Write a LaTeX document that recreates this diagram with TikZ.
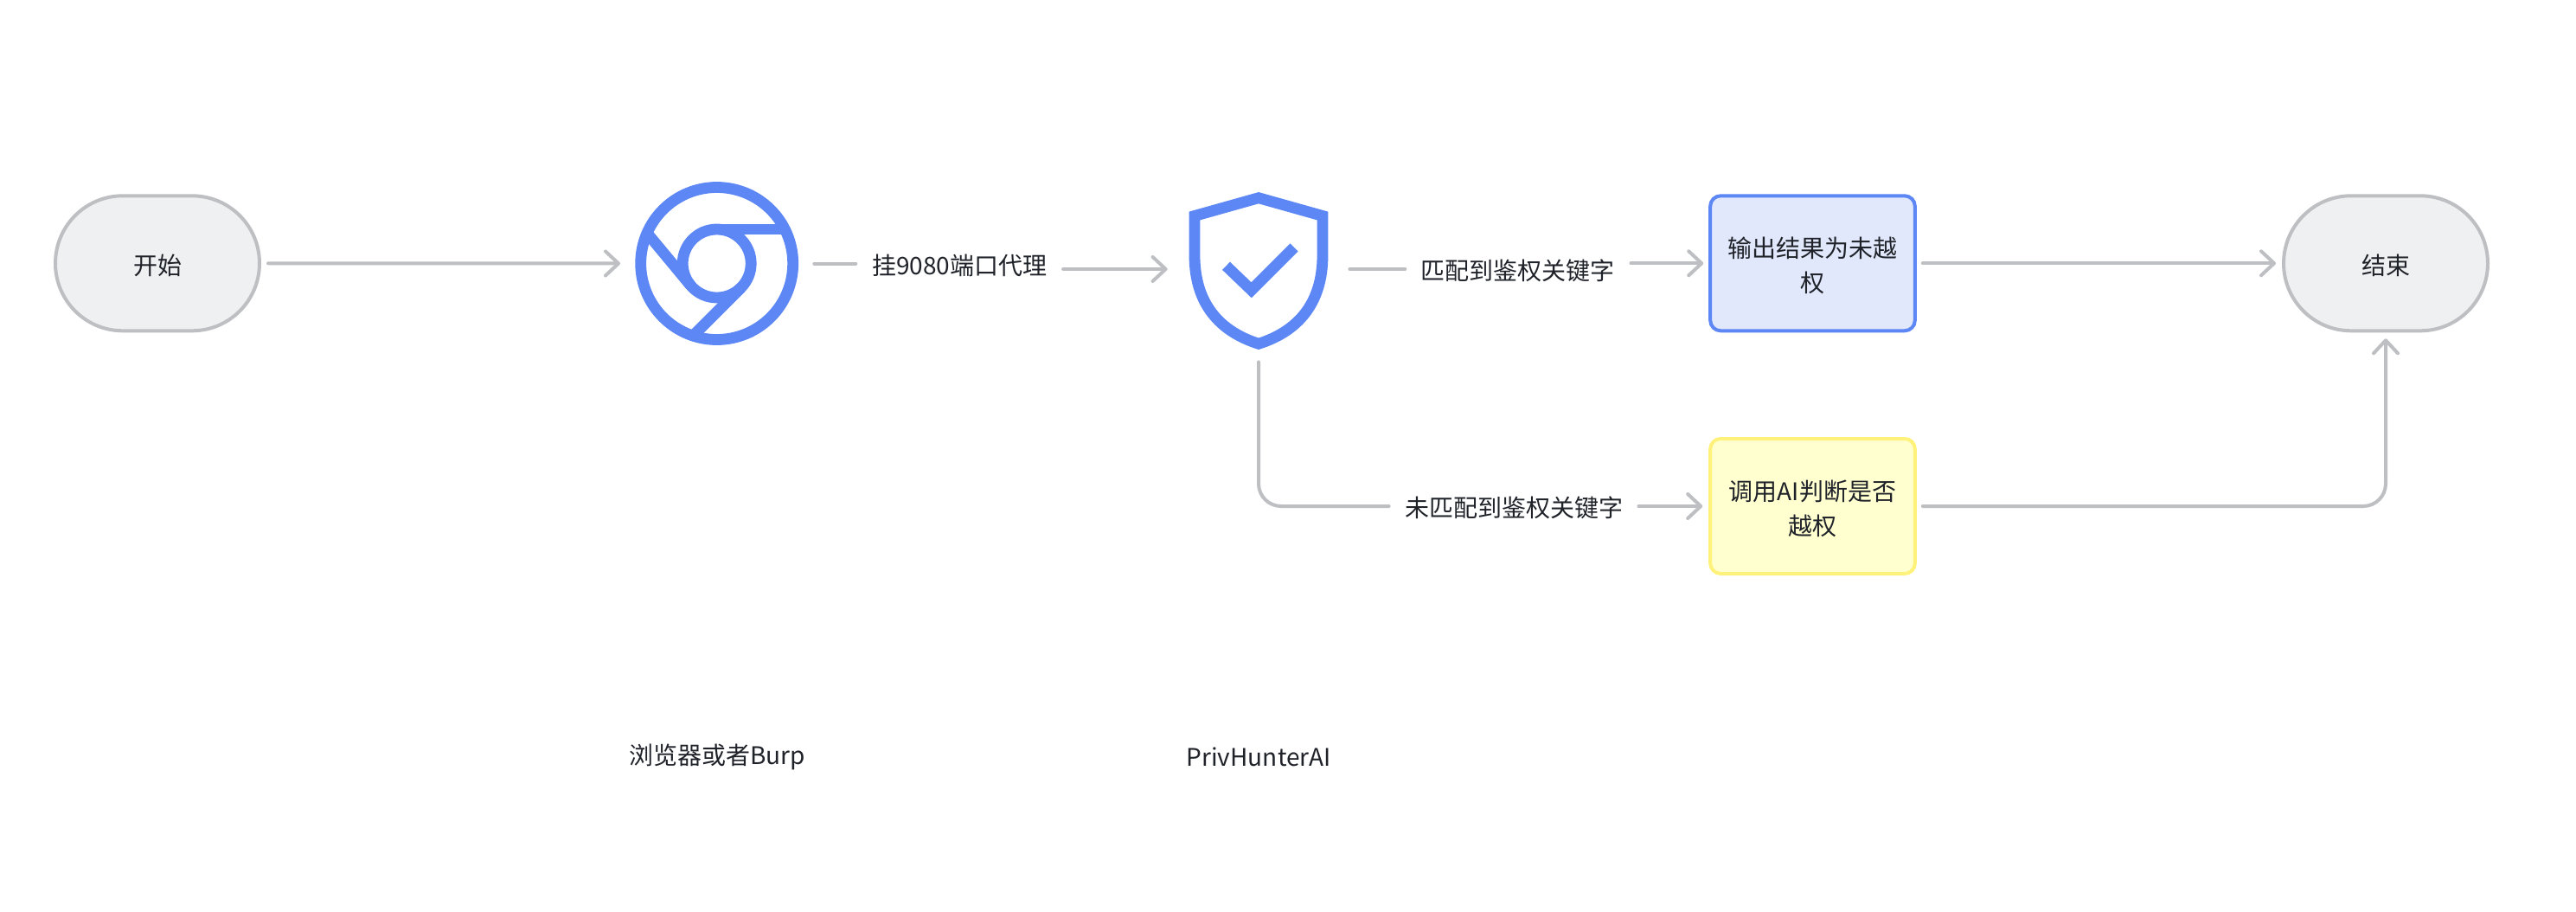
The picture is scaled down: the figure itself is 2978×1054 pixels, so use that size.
\documentclass[tikz,border=0pt]{standalone}
\usepackage{fontspec}
\setmainfont{Noto Sans CJK SC}
\usetikzlibrary{arrows.meta}
\definecolor{lineg}{HTML}{BDBFC3}
\definecolor{fillg}{HTML}{EFF0F1}
\definecolor{iconb}{HTML}{5C87F5}
\definecolor{fillb}{HTML}{E1E8FC}
\definecolor{liney}{HTML}{FFF27A}
\definecolor{filly}{HTML}{FFFFD0}
\definecolor{textc}{HTML}{1F2329}
\newcommand{\lowtext}[1]{\raisebox{-1.2pt}[\height][\depth]{#1}}
\tikzset{
  every node/.style={text=textc,font=\fontsize{14pt}{20pt}\selectfont,inner sep=0pt,align=center},
  terminal/.style={draw=lineg,fill=fillg,line width=2pt,rounded corners=39pt,minimum width=118pt,minimum height=78pt},
  procbox/.style={line width=2pt,rounded corners=6pt,minimum width=118.3pt,minimum height=78pt},
  conn/.style={draw=lineg,line width=2pt,line cap=round,line join=round},
  arrowed/.style={conn,-{Straight Barb[length=7.5pt,width=14pt,line width=2pt,round]}},
  icon/.style={draw=iconb,line width=6.4pt},
}
\begin{document}
\begin{tikzpicture}[x=0.5pt,y=-0.5pt]
\useasboundingbox (0,0) rectangle (2978,1054);
\fill[white] (0,0) rectangle (2978,1054);

% nodes
\node[terminal] (start) at (182,304.3) {\lowtext{开始}};
\node[minimum width=94.5pt,minimum height=94.5pt] (chrome) at (828.7,304.5) {};
\node[minimum width=80pt,minimum height=90pt] (shield) at (1455,311) {};
\node[procbox,draw=iconb,fill=fillb] (blue) at (2095.5,304.3) {\lowtext{输出结果为未越}\\\lowtext{权}};
\node[procbox,draw=liney,fill=filly] (yellow) at (2095.5,585) {\lowtext{调用AI判断是否}\\\lowtext{越权}};
\node[terminal] (finish) at (2758,304.3) {\lowtext{结束}};
\node[minimum width=119.5pt] (lab1) at (1109.2,306.7) {挂9080端口代理};
\node[minimum width=130.15pt] (lab2) at (1754.85,312.7) {匹配到鉴权关键字};
\node[minimum width=144pt] (lab3) at (1750,586.7) {未匹配到鉴权关键字};
\node (cap1) at (829,875) {浏览器或者Burp};
\node (cap2) at (1455,875) {PrivHunterAI};

% browser icon
\begin{scope}[shift={(chrome.center)}]
  \draw[icon] (0,0) circle[radius=88];
  \draw[icon] (0,0) circle[radius=39.5];
  \draw[icon] (0,-39.5) -- (78.5,-39.5);
  \draw[icon] (-30.4,25.3) -- (-80.7,-35.2);
  \draw[icon] (28,28) -- (-27.5,83.5);
\end{scope}

% shield icon
\begin{scope}[shift={(shield.center)}]
  \draw[icon,miter limit=10] (0,-82.3) -- (74,-61.5) -- (74,-16)
    .. controls (74,40) and (45,72) .. (0,86.3)
    .. controls (-45,72) and (-74,40) .. (-74,-16)
    -- (-74,-61.5) -- cycle;
  \draw[icon,miter limit=10] (-37.5,-3.7) -- (-8.3,24.3) -- (41,-25);
\end{scope}

% connectors
\draw[arrowed,shorten <=4pt,shorten >=8.4pt] (start.east) -- (chrome.west);
\draw[conn,shorten <=8.85pt] (chrome.east) -- (lab1.west |- chrome.east);
\draw[arrowed,shorten >=12.5pt] (lab1.east |- shield.west) -- (shield.west);
\draw[conn,shorten <=12.5pt] (shield.east) -- (lab2.west |- shield.east);
\draw[arrowed,shorten >=3pt] (lab2.east |- blue.west) -- (blue.west);
\draw[arrowed,shorten <=3.5pt,shorten >=3.5pt] (blue.east) -- (finish.west);
\draw[conn,rounded corners=13pt,shorten <=8.5pt] (shield.south) |- (lab3.west |- yellow.west);
\draw[arrowed,shorten >=3.5pt] (lab3.east |- yellow.west) -- (yellow.west);
\draw[arrowed,rounded corners=13pt,shorten <=3.5pt,shorten >=3.5pt] (yellow.east) -| (finish.south);
\end{tikzpicture}
\end{document}
